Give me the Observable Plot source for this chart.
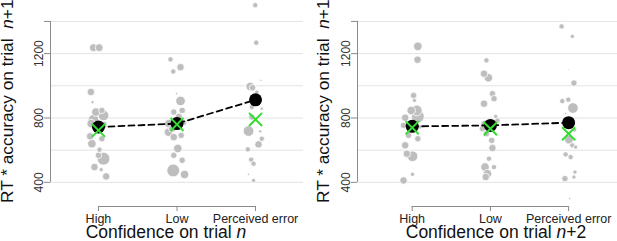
<!DOCTYPE html>
<html><head><meta charset="utf-8">
<script src="https://cdn.jsdelivr.net/npm/d3@7"></script>
<script src="https://cdn.jsdelivr.net/npm/@observablehq/plot@0.6"></script>
<style>
body{margin:0;background:#fff;width:617px;height:241px;overflow:hidden;position:relative;font-family:"Liberation Sans",Arial,sans-serif}
.panel{position:absolute;top:0}
.panel svg{overflow:visible}
</style></head><body>
<div id="p1" class="panel" style="left:0"></div>
<div id="p2" class="panel" style="left:307px"></div>
<script>
const categories = ["High", "Low", "Perceived error"];
const gridValues = [400, 600, 800, 1000, 1200, 1400];
const yTickValues = [400, 800, 1200, 1400];
const yLabelValues = [400, 800, 1200];
const meansN1 = [744, 765, 913];
const mediansN1 = [723, 760, 791];
const meansN2 = [748, 754, 771];
const mediansN2 = [740, 733, 702];
// [category (1..3), horizontal jitter, RT*accuracy, point weight]
const pointsN1 = [
  [1,-0.064,1237,3.7],[1,0.009,1237,3.7],[1,-0.097,961,3.5],[1,-0.076,899,1.5],[1,0.043,847,3],[1,-0.033,837,4],[1,0.064,816,5],[1,-0.064,789,5],[1,-0.093,765,4],[1,0.070,760,3],[1,0,723,3],[1,-0.106,686,3.5],[1,0.043,671,3],[1,-0.084,640,4],[1,0.013,603,2.5],[1,0,568,3],[1,0.064,547,6],[1,-0.051,495,3.5],[1,0.034,479,2],[1,0.098,437,3.5],
  [2,-0.083,1164,2.5],[2,-0.048,1089,2.5],[2,0.045,1116,3.5],[2,-0.006,951,1],[2,0.045,906,4.5],[2,-0.041,837,3],[2,0.066,847,3],[2,0.023,806,3.5],[2,-0.104,765,4],[2,0.083,772,3],[2,-0.061,734,3.5],[2,-0.108,712,4],[2,0.054,692,3],[2,-0.041,681,3.5],[2,0.01,611,4],[2,-0.041,568,3],[2,0.066,537,3],[2,-0.048,474,6],[2,0.096,449,4],
  [3,-0.004,1501,2.5],[3,0.009,1268,2.5],[3,0.068,1034,1],[3,-0.068,996,4],[3,-0.038,988,3],[3,0.017,961,2],[3,-0.047,868,2.5],[3,0.08,858,1.5],[3,-0.047,806,3],[3,-0.089,719,5],[3,0.06,717,1.5],[3,0.08,671,2.5],[3,0.038,636,3.5],[3,-0.098,605,2.5],[3,-0.055,541,2.5],[3,-0.025,516,2.5],[3,-0.089,450,1],[3,-0.025,412,2]
];
const pointsN2 = [
  [1,0.072,1245,4],[1,0.068,1162,3.5],[1,0.017,940,3],[1,0.029,909,2],[1,0.059,847,5],[1,-0.013,847,4],[1,0.072,810,6],[1,-0.09,802,3.5],[1,-0.111,754,3],[1,0.102,744,2],[1,-0.047,692,3],[1,0.072,671,3],[1,-0.09,630,3.5],[1,-0.069,578,3.5],[1,0.004,562,5],[1,0.004,450,2],[1,-0.111,412,3.5],
  [2,-0.051,1158,2.5],[2,-0.082,1075,3.5],[2,-0.026,1050,4],[2,0.026,951,3],[2,0.046,920,3],[2,-0.082,889,3.5],[2,0.068,810,2],[2,0.09,785,2.5],[2,-0.07,760,4],[2,-0.102,734,3],[2,-0.051,702,3],[2,0.017,661,3],[2,0.026,613,3.5],[2,-0.018,547,2.5],[2,-0.069,495,4],[2,0.046,495,2.5],[2,-0.038,454,4],[2,-0.06,433,3.5],
  [3,-0.047,1402,0.7],[3,-0.09,1369,2.5],[3,0.047,1307,2],[3,-0.004,1100,0.7],[3,0.068,1017,3],[3,-0.004,914,2.5],[3,-0.081,905,2.5],[3,0.055,862,5],[3,-0.038,827,1],[3,0.077,725,2],[3,0.004,665,4],[3,0.047,630,2.5],[3,0.09,619,2],[3,-0.038,574,2.5],[3,0.026,557,2.5],[3,0.081,464,2],[3,0.068,433,2],[3,-0.047,423,3],[3,0.013,299,1]
];
const yDomain = [250, 1530];

function panel(o) {
  const meanData = o.means.map((v, i) => ({c: i + 1, v}));
  const medianData = o.medians.map((v, i) => ({c: i + 1, v}));
  const svg = Plot.plot({
    width: o.width, height: 241,
    marginLeft: 50, marginRight: o.marginRight, marginTop: 0, marginBottom: 35,
    x: {type: "linear", domain: o.xDomain},
    y: {domain: yDomain},
    r: {type: "linear", domain: [0, 6], range: [0, 6.4]},
    style: {fontFamily: "Liberation Sans, Arial, sans-serif", fontSize: "12px", color: "#222", background: "transparent"},
    marks: [
      Plot.ruleY(gridValues, {stroke: "#e3e3e3", strokeWidth: 1}),
      Plot.ruleX([o.xDomain[0]], {y1: gridValues[0], y2: gridValues[gridValues.length - 1], stroke: "#8a8a8a"}),
      Plot.axisY({ticks: yTickValues, tickSize: 6, tickFormat: () => "", stroke: "#8a8a8a", label: null}),
      Plot.text(yLabelValues, {x: o.xDomain[0], y: d => d, text: d => String(d), rotate: -90, dx: -8, lineAnchor: "bottom", textAnchor: "middle", fontSize: 12, fill: "#333"}),
      Plot.ruleY([yDomain[0]], {x1: 1, x2: 3, stroke: "#8a8a8a"}),
      Plot.axisX({ticks: [1, 2, 3], tickSize: 5, tickPadding: 3, tickFormat: i => categories[i - 1], stroke: "#8a8a8a", fill: "#222", fontSize: 12.5, label: null}),
      Plot.dot(o.points, {x: d => d[0] + d[1], y: d => d[2], r: d => d[3], fill: "#bebebe", stroke: "white", strokeWidth: 0.8}),
      Plot.line(meanData, {x: "c", y: "v", stroke: "black", strokeWidth: 1.8, strokeDasharray: "6,4"}),
      Plot.dot(meanData, {x: "c", y: "v", r: 6.5, fill: "black"}),
      Plot.dot(medianData, {x: "c", y: "v", symbol: "times", r: 6, stroke: "#33dd33", strokeWidth: 2})
    ]
  });
  const s = d3.select(svg);
  const xt = s.append("text").attr("x", o.xTitleX).attr("y", 238).attr("text-anchor", "middle")
    .attr("font-size", 17.5).attr("fill", "#111");
  xt.append("tspan").text("Confidence on trial ");
  xt.append("tspan").attr("font-style", "italic").text("n");
  if (o.suffix) xt.append("tspan").text(o.suffix);
  const yt = s.append("text").attr("transform", `translate(${o.yTitleX},203) rotate(-90)`)
    .attr("text-anchor", "start").attr("font-size", 17.3).attr("fill", "#111");
  yt.append("tspan").text("RT * accuracy on trial\u00a0\u00a0");
  yt.append("tspan").attr("font-style", "italic").text("n");
  yt.append("tspan").text("+1");
  return svg;
}

document.getElementById("p1").appendChild(panel({
  points: pointsN1, means: meansN1, medians: mediansN1,
  width: 307, marginRight: 4, xDomain: [0.389, 3.611], xTitleX: 166, yTitleX: 13, suffix: ""
}));
document.getElementById("p2").appendChild(panel({
  points: pointsN2, means: meansN2, medians: mediansN2,
  width: 310, marginRight: 0, xDomain: [0.3005, 3.625], xTitleX: 189, yTitleX: 22, suffix: "+2"
}));
</script>
</body></html>
